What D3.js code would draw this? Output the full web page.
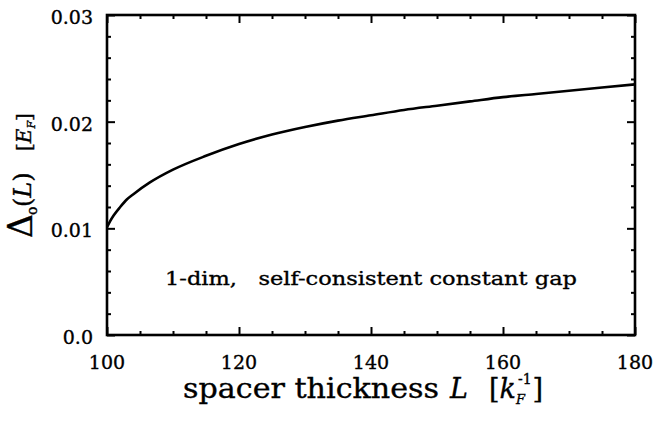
<!DOCTYPE html>
<html>
<head>
<meta charset="utf-8">
<script src="https://cdn.jsdelivr.net/npm/d3@7/dist/d3.min.js"></script>
<style>
  html, body { margin: 0; padding: 0; background: #fff; }
  svg text { font-family: "DejaVu Serif", "Liberation Serif", serif; fill: #000; stroke: #000; stroke-width: 0.35px; }
</style>
</head>
<body>
<svg id="chart" width="655" height="421"></svg>
<script>
// Spacer thickness L in units of 1/k_F
const thickness = [100, 100.5, 101, 102, 103, 104, 106.5, 110, 115, 120, 125, 130, 135, 140, 145, 150, 155, 160, 165, 170, 175, 180];
// Self-consistent constant gap Δ0(L) in units of E_F
const gap = [0.0101, 0.0107, 0.0112, 0.0120, 0.0127, 0.0132, 0.0143, 0.0155, 0.0168, 0.0179, 0.0188, 0.0195, 0.0201, 0.0206, 0.0211, 0.0215, 0.0219, 0.0223, 0.0226, 0.0229, 0.0232, 0.0235];

const xMajorTicks = [100, 120, 140, 160, 180];
const yMajorTicks = [0.0, 0.01, 0.02, 0.03];
const yTickLabels = ["0.0", "0.01", "0.02", "0.03"];

const svg = d3.select("#chart");
const margin = { left: 107, right: 20, top: 15, bottom: 86 };
const W = 655, H = 421;

const x = d3.scaleLinear().domain([100, 180]).range([margin.left, W - margin.right]);
const y = d3.scaleLinear().domain([0, 0.03]).range([H - margin.bottom, margin.top]);

const xMinor = d3.range(100, 180.01, 5).filter(v => v % 20 !== 0);
const yMinor = d3.range(0, 15).map(i => i * 0.002).filter((v, i) => i % 5 !== 0);

function styleAxis(g) {
  g.select(".domain").remove();
  g.selectAll(".tick line").attr("stroke", "#000").attr("stroke-width", 2);
}

// inward tick marks on all four sides
const tickSets = [
  [d3.axisBottom(x).tickValues(xMajorTicks).tickSize(-8), `translate(0,${y(0)})`],
  [d3.axisBottom(x).tickValues(xMinor).tickSize(-4), `translate(0,${y(0)})`],
  [d3.axisTop(x).tickValues(xMajorTicks).tickSize(-8), `translate(0,${y(0.03)})`],
  [d3.axisTop(x).tickValues(xMinor).tickSize(-4), `translate(0,${y(0.03)})`],
  [d3.axisLeft(y).tickValues(yMajorTicks).tickSize(-8), `translate(${x(100)},0)`],
  [d3.axisLeft(y).tickValues(yMinor).tickSize(-4), `translate(${x(100)},0)`],
  [d3.axisRight(y).tickValues(yMajorTicks).tickSize(-8), `translate(${x(180)},0)`],
  [d3.axisRight(y).tickValues(yMinor).tickSize(-4), `translate(${x(180)},0)`]
];
tickSets.forEach(([ax, tr]) => {
  const g = svg.append("g").attr("transform", tr).call(ax.tickFormat(""));
  styleAxis(g);
});

// tick labels
svg.append("g").selectAll("text").data(xMajorTicks).join("text")
  .attr("x", d => x(d)).attr("y", 369)
  .attr("text-anchor", "middle")
  .attr("font-size", 19)
  .text(d => d);

svg.append("g").selectAll("text").data(yMajorTicks).join("text")
  .attr("x", 93).attr("y", d => y(d) + 9)
  .attr("text-anchor", "end")
  .attr("font-size", 19)
  .text((d, i) => yTickLabels[i]);

// frame
svg.append("rect")
  .attr("x", x(100)).attr("y", y(0.03))
  .attr("width", x(180) - x(100)).attr("height", y(0) - y(0.03))
  .attr("fill", "none").attr("stroke", "#000").attr("stroke-width", 2.6);

// gap curve
const line = d3.line().x(d => x(d[0])).y(d => y(d[1])).curve(d3.curveMonotoneX);
svg.append("path")
  .datum(thickness.map((t, i) => [t, gap[i]]))
  .attr("d", line)
  .attr("fill", "none").attr("stroke", "#000").attr("stroke-width", 2.6);

// annotation
svg.append("text")
  .attr("x", 165).attr("y", 285)
  .attr("font-size", 19)
  .attr("xml:space", "preserve")
  .attr("textLength", 412).attr("lengthAdjust", "spacingAndGlyphs")
  .text("1-dim,   self-consistent constant gap");

// x axis title
const xTitleY = 398;
svg.append("text")
  .attr("x", 183).attr("y", xTitleY)
  .attr("font-size", 27)
  .attr("textLength", 256).attr("lengthAdjust", "spacingAndGlyphs")
  .text("spacer thickness");
svg.append("text")
  .attr("x", 450).attr("y", xTitleY)
  .attr("font-size", 27).attr("font-style", "italic")
  .text("L");
const xu = svg.append("text").attr("x", 489).attr("y", xTitleY).attr("font-size", 27);
xu.append("tspan").text("[");
xu.append("tspan").attr("font-style", "italic").text("k");
xu.append("tspan").attr("font-style", "italic").attr("font-size", 13).attr("dy", 6).text("F");
xu.append("tspan").attr("font-size", 14).attr("dy", -20).attr("dx", -7).text("-1");
xu.append("tspan").attr("dy", 14).attr("dx", 1).text("]");

// y axis title, written bottom-to-top
const yg = svg.append("g").attr("transform", "translate(32,0) rotate(-90)");
yg.append("text").attr("x", -238).attr("y", 0).attr("font-size", 33).text("Δ");
yg.append("text").attr("x", -215).attr("y", 5).attr("font-size", 14).text("o");
const yl = yg.append("text").attr("x", -207).attr("y", -1).attr("font-size", 24);
yl.append("tspan").text("(");
yl.append("tspan").attr("font-style", "italic").text("L");
yl.append("tspan").text(")");
const ye = yg.append("text").attr("x", -151).attr("y", -1).attr("font-size", 20);
ye.append("tspan").text("[");
ye.append("tspan").attr("font-style", "italic").text("E");
ye.append("tspan").attr("font-style", "italic").attr("font-size", 11).attr("dy", 4).text("F");
ye.append("tspan").attr("dy", -4).text("]");
</script>
</body>
</html>
